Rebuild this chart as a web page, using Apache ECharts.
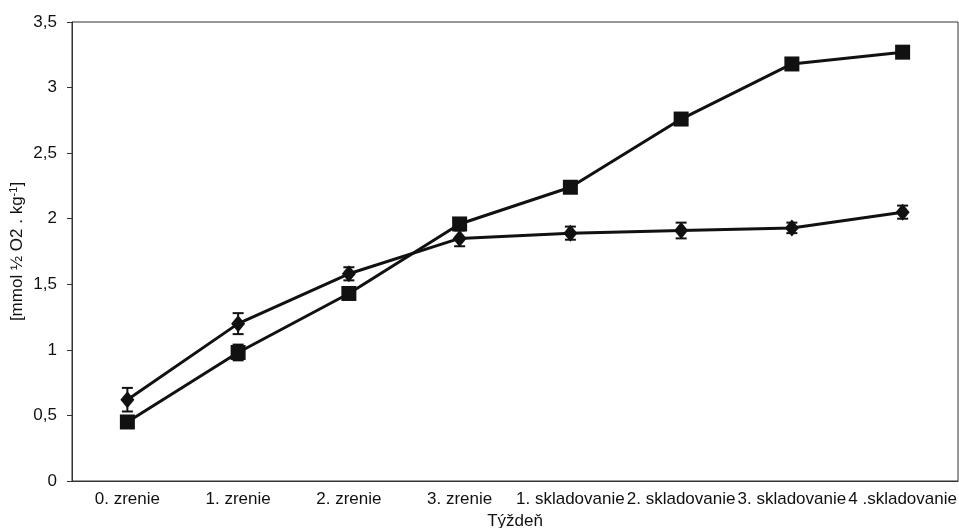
<!DOCTYPE html>
<html><head><meta charset="utf-8">
<script src="https://cdn.jsdelivr.net/npm/echarts@6/dist/echarts.min.js"></script>
<style>html,body{margin:0;padding:0;background:#fff}#c{width:959px;height:528px}</style>
</head><body><div id="c"></div>
<script>
const categories = ['0. zrenie','1. zrenie','2. zrenie','3. zrenie','1. skladovanie','2. skladovanie','3. skladovanie','4 .skladovanie'];
const diamondValues = [0.62,1.20,1.58,1.85,1.89,1.91,1.93,2.05];
const diamondErr = [0.09,0.08,0.05,0.06,0.05,0.06,0.04,0.05];
const squareValues = [0.45,0.98,1.43,1.96,2.24,2.76,3.18,3.27];
const squareErr = [0.03,0.06,0.03,0.03,0.03,0.03,0.03,0.03];
const yTicks = ['0','0,5','1','1,5','2','2,5','3','3,5'];

const chart = echarts.init(document.getElementById('c'));
function errData(vals, errs){ return vals.map((v,i)=>[i, v-errs[i], v+errs[i]]); }
function renderErr(params, api){
  const x = api.value(0);
  const lo = api.coord([x, api.value(1)]);
  const hi = api.coord([x, api.value(2)]);
  const w = 5.5;
  const st = {stroke:'#111', lineWidth:2};
  return {type:'group', children:[
    {type:'line', shape:{x1:lo[0],y1:lo[1],x2:hi[0],y2:hi[1]}, style:st},
    {type:'line', shape:{x1:lo[0]-w,y1:lo[1],x2:lo[0]+w,y2:lo[1]}, style:st},
    {type:'line', shape:{x1:hi[0]-w,y1:hi[1],x2:hi[0]+w,y2:hi[1]}, style:st}
  ]};
}
const font = 'Liberation Sans, Arial, sans-serif';
chart.setOption({
  animation:false,
  grid:{left:72,right:1,top:22,bottom:47,outerBoundsMode:'none',containLabel:false,show:true,borderColor:'#333',borderWidth:1},
  xAxis:{type:'category',data:categories,boundaryGap:true,
    name:'Týždeň',nameLocation:'middle',nameGap:30,
    nameTextStyle:{fontFamily:font,fontSize:17,color:'#111'},
    axisLine:{lineStyle:{color:'#333',width:1}},
    axisTick:{inside:true,length:5,lineStyle:{color:'#333'}},
    axisLabel:{fontFamily:font,fontSize:17,color:'#111',margin:10,interval:0,hideOverlap:false}},
  yAxis:{type:'value',min:0,max:3.5,interval:0.5,
    name:'{a|[mmol ½ O2 . kg}{s|-1}{a|]}',nameLocation:'middle',nameRotate:90,nameGap:46,nameMoveOverlap:false,
    nameTextStyle:{rich:{a:{fontFamily:font,fontSize:17,color:'#111'},s:{fontFamily:font,fontSize:11,color:'#111',verticalAlign:'top',padding:[0,0,7,0]}}},
    splitLine:{show:false},
    axisLine:{show:true,lineStyle:{color:'#333',width:1}},
    axisTick:{show:true,length:5,lineStyle:{color:'#333'}},
    axisLabel:{fontFamily:font,fontSize:17,color:'#111',margin:15,
      formatter:(v)=>yTicks[Math.round(v/0.5)]}},
  series:[
    {type:'line',data:diamondValues,symbol:'diamond',symbolSize:[14,17],
      lineStyle:{color:'#111',width:3},itemStyle:{color:'#111'},z:3},
    {type:'line',data:squareValues,symbol:'rect',symbolSize:15,
      lineStyle:{color:'#111',width:3},itemStyle:{color:'#111',borderRadius:2},z:3},
    {type:'custom',data:errData(diamondValues,diamondErr),renderItem:renderErr,z:4},
    {type:'custom',data:errData(squareValues,squareErr),renderItem:renderErr,z:4}
  ]
});
</script></body></html>
